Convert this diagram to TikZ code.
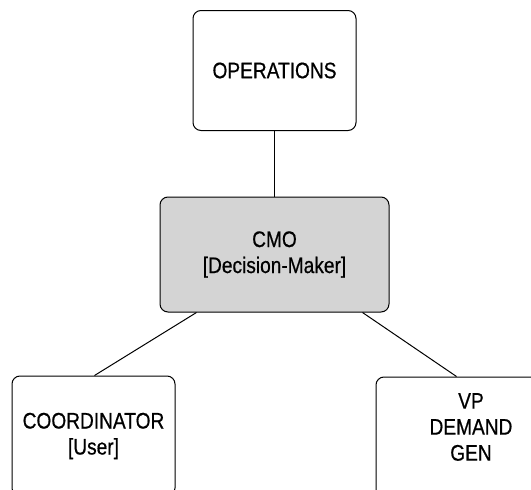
\documentclass[tikz,border=0pt]{standalone}
\usepackage{fontspec}
\setmainfont[FakeStretch=0.85, FakeBold=0.6]{Liberation Sans}
\usetikzlibrary{calc}
\tikzset{
  boxfont/.style={font=\fontsize{22.5}{26}\selectfont},
  orgbox/.style={draw=black, line width=1pt, rounded corners=8pt, fill=white,
    align=center, inner sep=0pt, boxfont},
  link/.style={draw=black, line width=1pt},
}
\begin{document}
\begin{tikzpicture}[x=1pt, y=-1pt]
  \useasboundingbox (0,0) rectangle (531,490);
  \clip (0,0) rectangle (531,490);
  % top box
  \node[orgbox, minimum width=163pt, minimum height=120pt] (ops) at (274.5,70.5) {OPERATIONS};
  % decision maker
  \node[orgbox, fill={rgb,255:red,212;green,212;blue,212}, minimum width=229pt, minimum height=115pt]
    (cmo) at (274.5,254.5) {CMO\\{}[Decision-Maker]};
  % bottom row, cut off by the page edge
  \node[orgbox, minimum width=163pt, minimum height=120pt] (coord) at (93.5,436) {COORDINATOR\\{}[User]};
  \node[orgbox, minimum width=190pt, minimum height=120pt,
    label={[boxfont, align=center, inner sep=0pt, yshift=10pt]center:{VP\\DEMAND\\GEN}}] (vp) at (471,437) {};
  % reporting lines
  \draw[link] (ops.south) -- (cmo.north);
  \draw[link] ($(cmo.south west)+(37,0)$) -- ($(coord.north west)+(83,0)$);
  \draw[link] ($(cmo.south east)+(-27,0)$) -- ($(vp.north west)+(81,0)$);
\end{tikzpicture}
\end{document}
